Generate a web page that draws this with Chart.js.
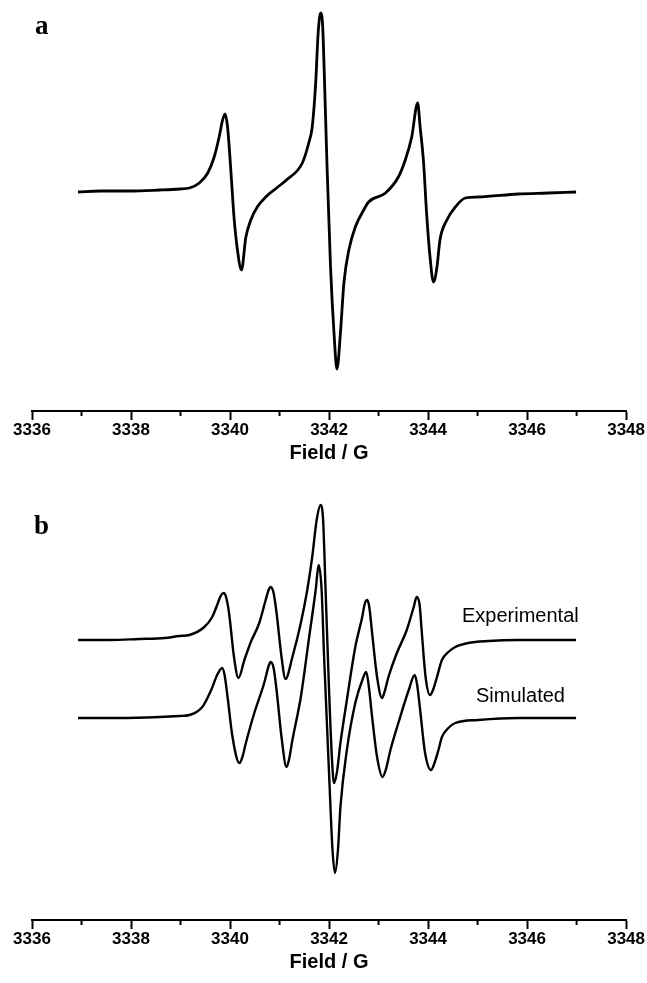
<!DOCTYPE html>
<html>
<head>
<meta charset="utf-8">
<script src="https://cdn.jsdelivr.net/npm/chart.js@4.4.1/dist/chart.umd.min.js"></script>
<style>
  body { margin: 0; background: #fff; }
  #wrap { position: relative; width: 647px; height: 983px; overflow: hidden; }
  canvas { position: absolute; left: 0; }
  #epr-a { top: 0; }
  #epr-b { top: 472px; }
  .panel { position: absolute; font: bold 27px "Liberation Serif", "DejaVu Serif", serif; }
  .trace-label { position: absolute; font: 20px "Liberation Sans", Arial, sans-serif; }
</style>
</head>
<body>
<div id="wrap">
  <canvas id="epr-a" width="647" height="472"></canvas>
  <canvas id="epr-b" width="647" height="511"></canvas>
  <div class="panel" style="left:35px; top:10px;">a</div>
  <div class="panel" style="left:34px; top:510px;">b</div>
  <div class="trace-label" style="left:462px; top:604px;">Experimental</div>
  <div class="trace-label" style="left:476px; top:684px;">Simulated</div>
</div>
<script>
// Field axis
const fieldTicks = [3336, 3337, 3338, 3339, 3340, 3341, 3342, 3343, 3344, 3345, 3346, 3347, 3348];
const labelledTicks = [3336, 3338, 3340, 3342, 3344, 3346, 3348];

// Panel a - experimental spectrum (arbitrary units)
const fieldA = [3336.93, 3337.37, 3337.97, 3338.58, 3338.98, 3339.18, 3339.38, 3339.55, 3339.68, 3339.78,
  3339.85, 3339.90, 3339.95, 3340.02, 3340.08, 3340.15, 3340.23, 3340.32, 3340.42, 3340.55,
  3340.72, 3340.94, 3341.14, 3341.46, 3341.59, 3341.66, 3341.73, 3341.78, 3341.83, 3341.87,
  3341.90, 3341.96, 3342.03, 3342.10, 3342.16, 3342.23, 3342.30, 3342.40, 3342.53, 3342.70,
  3342.80, 3343.14, 3343.40, 3343.54, 3343.67, 3343.79, 3343.84, 3343.91, 3343.97, 3344.04,
  3344.11, 3344.18, 3344.24, 3344.38, 3344.55, 3344.75, 3345.01, 3345.82, 3346.42, 3346.99];
const signalA = [-1, 0, 0, 1, 2, 3, 8, 18, 34, 54,
  71, 77, 64, 18, -26, -59, -79, -46, -29, -16,
  -6, 3, 11, 28, 48, 64, 108, 158, 178, 166,
  124, 24, -76, -142, -178, -142, -92, -59, -36, -19,
  -11, -2, 14, 31, 54, 88, 64, 28, -22, -66,
  -91, -76, -49, -29, -16, -7, -6, -3, -2, -1];

// Panel b - experimental
const fieldExp = [3336.93, 3337.57, 3338.17, 3338.68, 3338.98, 3339.18, 3339.48, 3339.64, 3339.74, 3339.81,
  3339.87, 3339.92, 3339.98, 3340.08, 3340.17, 3340.29, 3340.42, 3340.59, 3340.72, 3340.78,
  3340.82, 3340.88, 3340.94, 3341.04, 3341.12, 3341.26, 3341.43, 3341.56, 3341.66, 3341.75,
  3341.83, 3341.88, 3341.93, 3342.00, 3342.06, 3342.10, 3342.16, 3342.23, 3342.36, 3342.53,
  3342.67, 3342.72, 3342.77, 3342.81, 3342.87, 3342.97, 3343.07, 3343.12, 3343.20, 3343.37,
  3343.57, 3343.71, 3343.77, 3343.83, 3343.87, 3343.95, 3344.04, 3344.10, 3344.18, 3344.28,
  3344.41, 3344.55, 3344.81, 3345.22, 3345.82, 3346.42, 3346.99];
const signalExp = [-3, -3, -2, -1, 1, 2, 10, 20, 32, 41,
  44, 40, 24, -20, -41, -23, -5, 14, 37, 47,
  50, 44, 24, -20, -42, -20, 14, 47, 80, 117,
  132, 117, 47, -53, -123, -146, -135, -106, -63, -10,
  20, 33, 37, 31, 4, -40, -61, -55, -40, -16,
  7, 30, 40, 32, 7, -40, -58, -53, -40, -23,
  -15, -10, -6, -4, -3, -3, -3];

// Panel b - simulated
const fieldSim = [3336.93, 3337.77, 3338.58, 3338.98, 3339.18, 3339.44, 3339.62, 3339.74, 3339.84, 3339.89,
  3339.95, 3340.05, 3340.19, 3340.25, 3340.32, 3340.49, 3340.69, 3340.78, 3340.82, 3340.88,
  3340.94, 3341.04, 3341.14, 3341.19, 3341.26, 3341.43, 3341.59, 3341.73, 3341.79, 3341.85,
  3341.90, 3342.00, 3342.07, 3342.12, 3342.18, 3342.23, 3342.36, 3342.53, 3342.68, 3342.75,
  3342.80, 3342.87, 3342.97, 3343.08, 3343.15, 3343.24, 3343.40, 3343.61, 3343.73, 3343.78,
  3343.84, 3343.94, 3344.06, 3344.13, 3344.21, 3344.28, 3344.41, 3344.55, 3345.01, 3345.82,
  3346.99];
const signalSim = [-1, -1, 0, 1, 2, 10, 27, 42, 49, 42,
  20, -20, -46, -40, -26, 4, 34, 51, 55, 49,
  27, -20, -50, -43, -23, 20, 77, 127, 152, 127,
  60, -56, -133, -156, -133, -90, -33, 14, 38, 45,
  32, 0, -40, -60, -52, -33, -6, 27, 42, 32,
  7, -36, -53, -46, -33, -20, -11, -6, -3, -1,
  -1];

const simOffset = -80;

const toPoints = (xs, ys, shift = 0) => xs.map((x, i) => ({ x: x, y: ys[i] + shift }));

Chart.defaults.font.family = '"Liberation Sans", Arial, sans-serif';
Chart.defaults.color = '#000';

// minor ticks on odd field values, drawn from the x scale
const minorTicks = {
  id: 'minorTicks',
  afterDraw(chart) {
    const xs = chart.scales.x;
    const ctx = chart.ctx;
    ctx.save();
    ctx.strokeStyle = '#000';
    ctx.lineWidth = 2;
    xs.ticks.forEach(t => {
      if (labelledTicks.includes(t.value)) return;
      const px = xs.getPixelForValue(t.value);
      ctx.beginPath();
      ctx.moveTo(px, xs.top);
      ctx.lineTo(px, xs.top + 5);
      ctx.stroke();
    });
    ctx.restore();
  }
};

function lineSet(points, width) {
  return {
    data: points,
    borderColor: '#000',
    borderWidth: width,
    pointRadius: 0,
    fill: false,
    cubicInterpolationMode: 'monotone'
  };
}

function eprOptions(yMin, yMax, titleBottom) {
  return {
    responsive: false,
    animation: false,
    devicePixelRatio: 1,
    layout: { padding: { left: 32, right: 18, top: 0, bottom: 0 } },
    plugins: { legend: { display: false }, tooltip: { enabled: false } },
    scales: {
      x: {
        type: 'linear',
        min: 3336,
        max: 3348,
        afterBuildTicks: axis => { axis.ticks = fieldTicks.map(v => ({ value: v })); },
        ticks: {
          autoSkip: false,
          maxRotation: 0,
          padding: 2,
          font: { size: 17, weight: 'bold', lineHeight: 1 },
          callback: v => labelledTicks.includes(v) ? String(v) : ''
        },
        grid: {
          drawOnChartArea: false,
          drawTicks: true,
          tickLength: 9,
          tickWidth: 2,
          tickColor: c => (c.tick && labelledTicks.includes(c.tick.value)) ? '#000' : 'rgba(0,0,0,0)'
        },
        border: { display: true, color: '#000', width: 2 },
        title: {
          display: true,
          text: 'Field / G',
          font: { size: 20, weight: 'bold', lineHeight: 1 },
          padding: { top: 2, bottom: titleBottom }
        }
      },
      y: { display: false, min: yMin, max: yMax }
    }
  };
}

new Chart(document.getElementById('epr-a'), {
  type: 'line',
  data: { datasets: [lineSet(toPoints(fieldA, signalA), 2.8)] },
  options: eprOptions(-220, 191, 9),
  plugins: [minorTicks]
});

new Chart(document.getElementById('epr-b'), {
  type: 'line',
  data: {
    datasets: [
      lineSet(toPoints(fieldExp, signalExp), 2.4),
      lineSet(toPoints(fieldSim, signalSim, simOffset), 2.4)
    ]
  },
  options: eprOptions(-283, 165, 11),
  plugins: [minorTicks]
});
</script>
</body>
</html>
